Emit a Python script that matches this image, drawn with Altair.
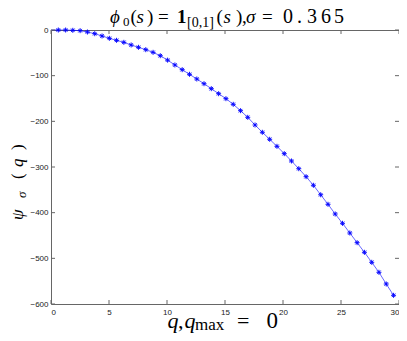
import altair as alt
import pandas as pd

# ---- data ----
q_values = [0.00, 0.63, 1.26, 1.88, 2.51, 3.14, 3.77, 4.40, 5.03, 5.65,
            6.28, 6.91, 7.54, 8.17, 8.80, 9.42, 10.05, 10.68, 11.31, 11.94,
            12.57, 13.19, 13.82, 14.45, 15.08, 15.71, 16.34, 16.96, 17.59, 18.22,
            18.85, 19.48, 20.11, 20.73, 21.36, 21.99, 22.62, 23.25, 23.88, 24.50,
            25.13, 25.76, 26.39, 27.02, 27.65, 28.27, 28.90, 29.53]
psi_values = [0.0, 0.0, 0.0, -0.7, -1.5, -4.4, -8.1, -13.1, -18.2, -22.6,
              -27.0, -32.8, -37.9, -43.1, -48.9, -56.3, -66.0, -76.6, -86.9, -97.0,
              -107.3, -117.6, -128.5, -139.5, -150.4, -162.7, -176.7, -191.2, -208.0, -224.0,
              -239.3, -254.7, -270.8, -286.8, -303.7, -321.2, -340.0, -360.8, -381.7, -402.9,
              -423.3, -444.5, -465.7, -486.8, -508.7, -530.6, -556.2, -581.0]
x_ticks = [0, 5, 10, 15, 20, 25, 30]
y_ticks = [-600, -500, -400, -300, -200, -100, 0]

W, H = 348, 274
OX, OY = 51, 30  # page position of plot origin
AXIS_COLOR = "#666666"
BLUE = "#0000ff"

df = pd.DataFrame({"q": q_values, "psi": psi_values})
xs = alt.Scale(domain=[0, 30], nice=False, zero=False)
ys = alt.Scale(domain=[-600, 0], nice=False, zero=False)

x_axis = alt.Axis(values=x_ticks, ticks=False, tickSize=0, domain=False, grid=False,
                  labelPadding=4, labelFontSize=8, labelColor="#222222",
                  labelFont="Liberation Sans", labelFlush=True, labelOverlap=False,
                  title=None)
y_axis = alt.Axis(values=y_ticks, ticks=False, tickSize=0, domain=False, grid=False,
                  labelPadding=3, labelFontSize=8, labelColor="#222222",
                  labelFont="Liberation Sans", labelFlush=False, labelOverlap=False,
                  title=None)

line = alt.Chart(df).mark_line(color=BLUE, strokeWidth=0.7, opacity=0.85).encode(
    x=alt.X("q:Q", scale=xs, axis=x_axis),
    y=alt.Y("psi:Q", scale=ys, axis=y_axis),
)

ASTERISK = "M-1,0L1,0M0,-1L0,1M-0.7,-0.7L0.7,0.7M-0.7,0.7L0.7,-0.7"
points = alt.Chart(df).transform_filter("datum.q > 0").mark_point(
    shape=ASTERISK, filled=False, stroke=BLUE, strokeWidth=1, size=25, opacity=0.95
).encode(
    x=alt.X("q:Q", scale=xs, axis=x_axis),
    y=alt.Y("psi:Q", scale=ys, axis=y_axis),
)

xt = pd.DataFrame({"q": x_ticks})
yt = pd.DataFrame({"psi": y_ticks})
TL = 4
tick_b = alt.Chart(xt).mark_rule(color=AXIS_COLOR, strokeWidth=1).encode(
    x=alt.X("q:Q", scale=xs, axis=x_axis), y=alt.value(H), y2=alt.value(H - TL))
tick_t = alt.Chart(xt).mark_rule(color=AXIS_COLOR, strokeWidth=1).encode(
    x=alt.X("q:Q", scale=xs, axis=x_axis), y=alt.value(0), y2=alt.value(TL))
tick_l = alt.Chart(yt).mark_rule(color=AXIS_COLOR, strokeWidth=1).encode(
    y=alt.Y("psi:Q", scale=ys, axis=y_axis), x=alt.value(0), x2=alt.value(TL))
tick_r = alt.Chart(yt).mark_rule(color=AXIS_COLOR, strokeWidth=1).encode(
    y=alt.Y("psi:Q", scale=ys, axis=y_axis), x=alt.value(W), x2=alt.value(W - TL))


def txt(s, px, py, size, style="normal", weight="normal", angle=0):
    return alt.Chart(alt.Data(values=[{}])).mark_text(
        text=s, fontSize=size, fontStyle=style, fontWeight=weight, angle=angle,
        align="left", baseline="alphabetic", font="Liberation Serif", color="black"
    ).encode(x=alt.value(px - OX), y=alt.value(py - OY))


# title: phi_0(s) = 1_[0,1](s), sigma = 0.365
TB = 23
TS = 19
title_parts = [
    txt("ϕ", 110, TB, TS, style="italic"),
    txt("0", 123, TB + 3, 13),
    txt("(", 130.5, TB, TS),
    txt("s", 136.5, TB, TS, style="italic"),
    txt(")", 147, TB, TS),
    txt("=", 158, TB, TS),
    txt("1", 177, TB, TS, weight="bold"),
    txt("[0,1]", 187, TB + 3.5, 14),
    txt("(", 216.5, TB, TS),
    txt("s", 223.5, TB, TS, style="italic"),
    txt(")", 236, TB, TS),
    txt(",", 242, TB, TS),
    txt("σ", 246, TB, TS, style="italic"),
    txt("=", 262, TB, TS),
    txt("0", 283, TB, 20),
    txt(".", 297, TB, 20),
    txt("3", 307, TB, 20),
    txt("6", 321, TB, 20),
    txt("5", 334, TB, 20),
]

# x label: q, q_max = 0
XB = 328
XS = 22
xlabel_parts = [
    txt("q", 167.5, XB, XS, style="italic"),
    txt(",", 178, XB, XS),
    txt("q", 184.5, XB, XS, style="italic"),
    txt("max", 195, XB + 2, 17),
    txt("=", 237, XB, XS),
    txt("0", 266.5, XB, 23),
]

# y label: psi_sigma(q), rotated
YB = 23
YS = 17
ylabel_parts = [
    txt("ψ", YB, 220, YS, style="italic", angle=270),
    txt("σ", YB + 3, 198, 13, style="italic", angle=270),
    txt("(", YB, 179, YS, angle=270),
    txt("q", YB, 167, YS, style="italic", angle=270),
    txt(")", YB, 150, YS, angle=270),
]

chart = alt.layer(
    line, points, tick_b, tick_t, tick_l, tick_r,
    *title_parts, *xlabel_parts, *ylabel_parts
).properties(
    width=W, height=H,
    autosize=alt.AutoSizeParams(type="none"),
    padding={"left": OX - 8, "top": OY - 8, "right": 0, "bottom": 29},
    background="white",
).configure_view(stroke=AXIS_COLOR, strokeWidth=1)

chart.save("out.html", embed_options={"renderer": "svg", "actions": False})
